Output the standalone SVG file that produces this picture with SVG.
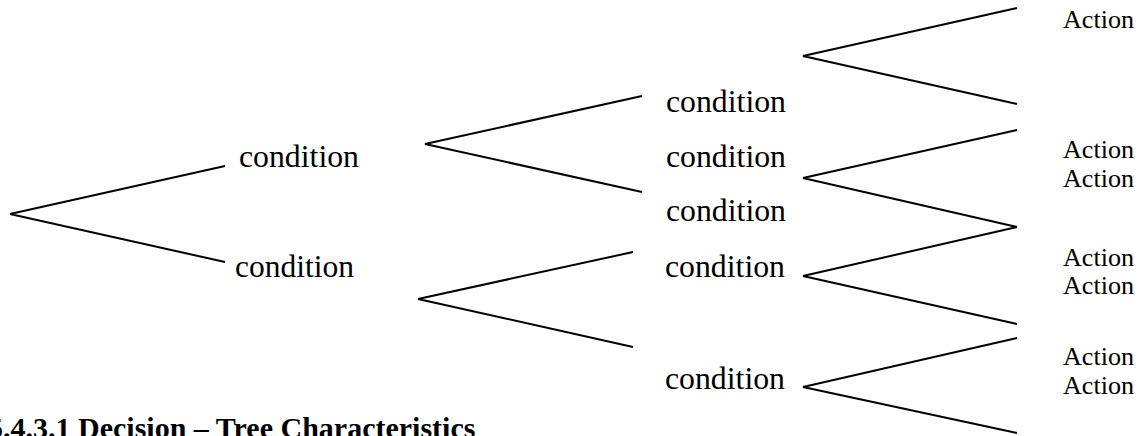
<svg xmlns="http://www.w3.org/2000/svg" width="1143" height="436" viewBox="0 0 1143 436">
<style>
.e{fill:none;stroke:#000;stroke-width:2;stroke-linejoin:miter}
.c{font-family:"Liberation Serif","Times New Roman",serif;font-size:32px;fill:#000}
.a{font-family:"Liberation Serif","Times New Roman",serif;font-size:26px;fill:#000}
.t{font-family:"Liberation Serif","Times New Roman",serif;font-size:30px;font-weight:bold;fill:#000}
</style>
<rect width="1143" height="436" fill="#fff"/>
<g id="connectors">
<polyline class="e" points="225,166 10,214 225,262"/>
<polyline class="e" points="642,96 425,144 642,192"/>
<polyline class="e" points="633,252 418,299 633,347"/>
<polyline class="e" points="1017,8 803,56 1017,104"/>
<polyline class="e" points="1017,130 803,178 1017,227"/>
<polyline class="e" points="1017,227 803,276 1017,324"/>
<polyline class="e" points="1017,338 803,387 1017,433"/>
</g>
<g id="n1"><text class="c" x="239" y="167" textLength="120" lengthAdjust="spacingAndGlyphs">condition</text></g>
<g id="n2"><text class="c" x="235" y="277" textLength="119" lengthAdjust="spacingAndGlyphs">condition</text></g>
<g id="n3"><text class="c" x="666" y="112" textLength="120" lengthAdjust="spacingAndGlyphs">condition</text></g>
<g id="n4"><text class="c" x="666" y="167" textLength="120" lengthAdjust="spacingAndGlyphs">condition</text></g>
<g id="n5"><text class="c" x="666" y="221" textLength="120" lengthAdjust="spacingAndGlyphs">condition</text></g>
<g id="n6"><text class="c" x="665" y="277" textLength="120" lengthAdjust="spacingAndGlyphs">condition</text></g>
<g id="n7"><text class="c" x="665" y="389" textLength="120" lengthAdjust="spacingAndGlyphs">condition</text></g>
<g id="a1"><text class="a" x="1063" y="28" textLength="71" lengthAdjust="spacingAndGlyphs">Action</text></g>
<g id="a2"><text class="a" x="1063" y="158" textLength="71" lengthAdjust="spacingAndGlyphs">Action</text></g>
<g id="a3"><text class="a" x="1063" y="187" textLength="71" lengthAdjust="spacingAndGlyphs">Action</text></g>
<g id="a4"><text class="a" x="1063" y="266" textLength="71" lengthAdjust="spacingAndGlyphs">Action</text></g>
<g id="a5"><text class="a" x="1063" y="294" textLength="71" lengthAdjust="spacingAndGlyphs">Action</text></g>
<g id="a6"><text class="a" x="1063" y="365" textLength="71" lengthAdjust="spacingAndGlyphs">Action</text></g>
<g id="a7"><text class="a" x="1063" y="394" textLength="71" lengthAdjust="spacingAndGlyphs">Action</text></g>
<g id="title"><text class="t" x="-12" y="438">5.4.3.1 Decision – Tree Characteristics</text></g>
</svg>
